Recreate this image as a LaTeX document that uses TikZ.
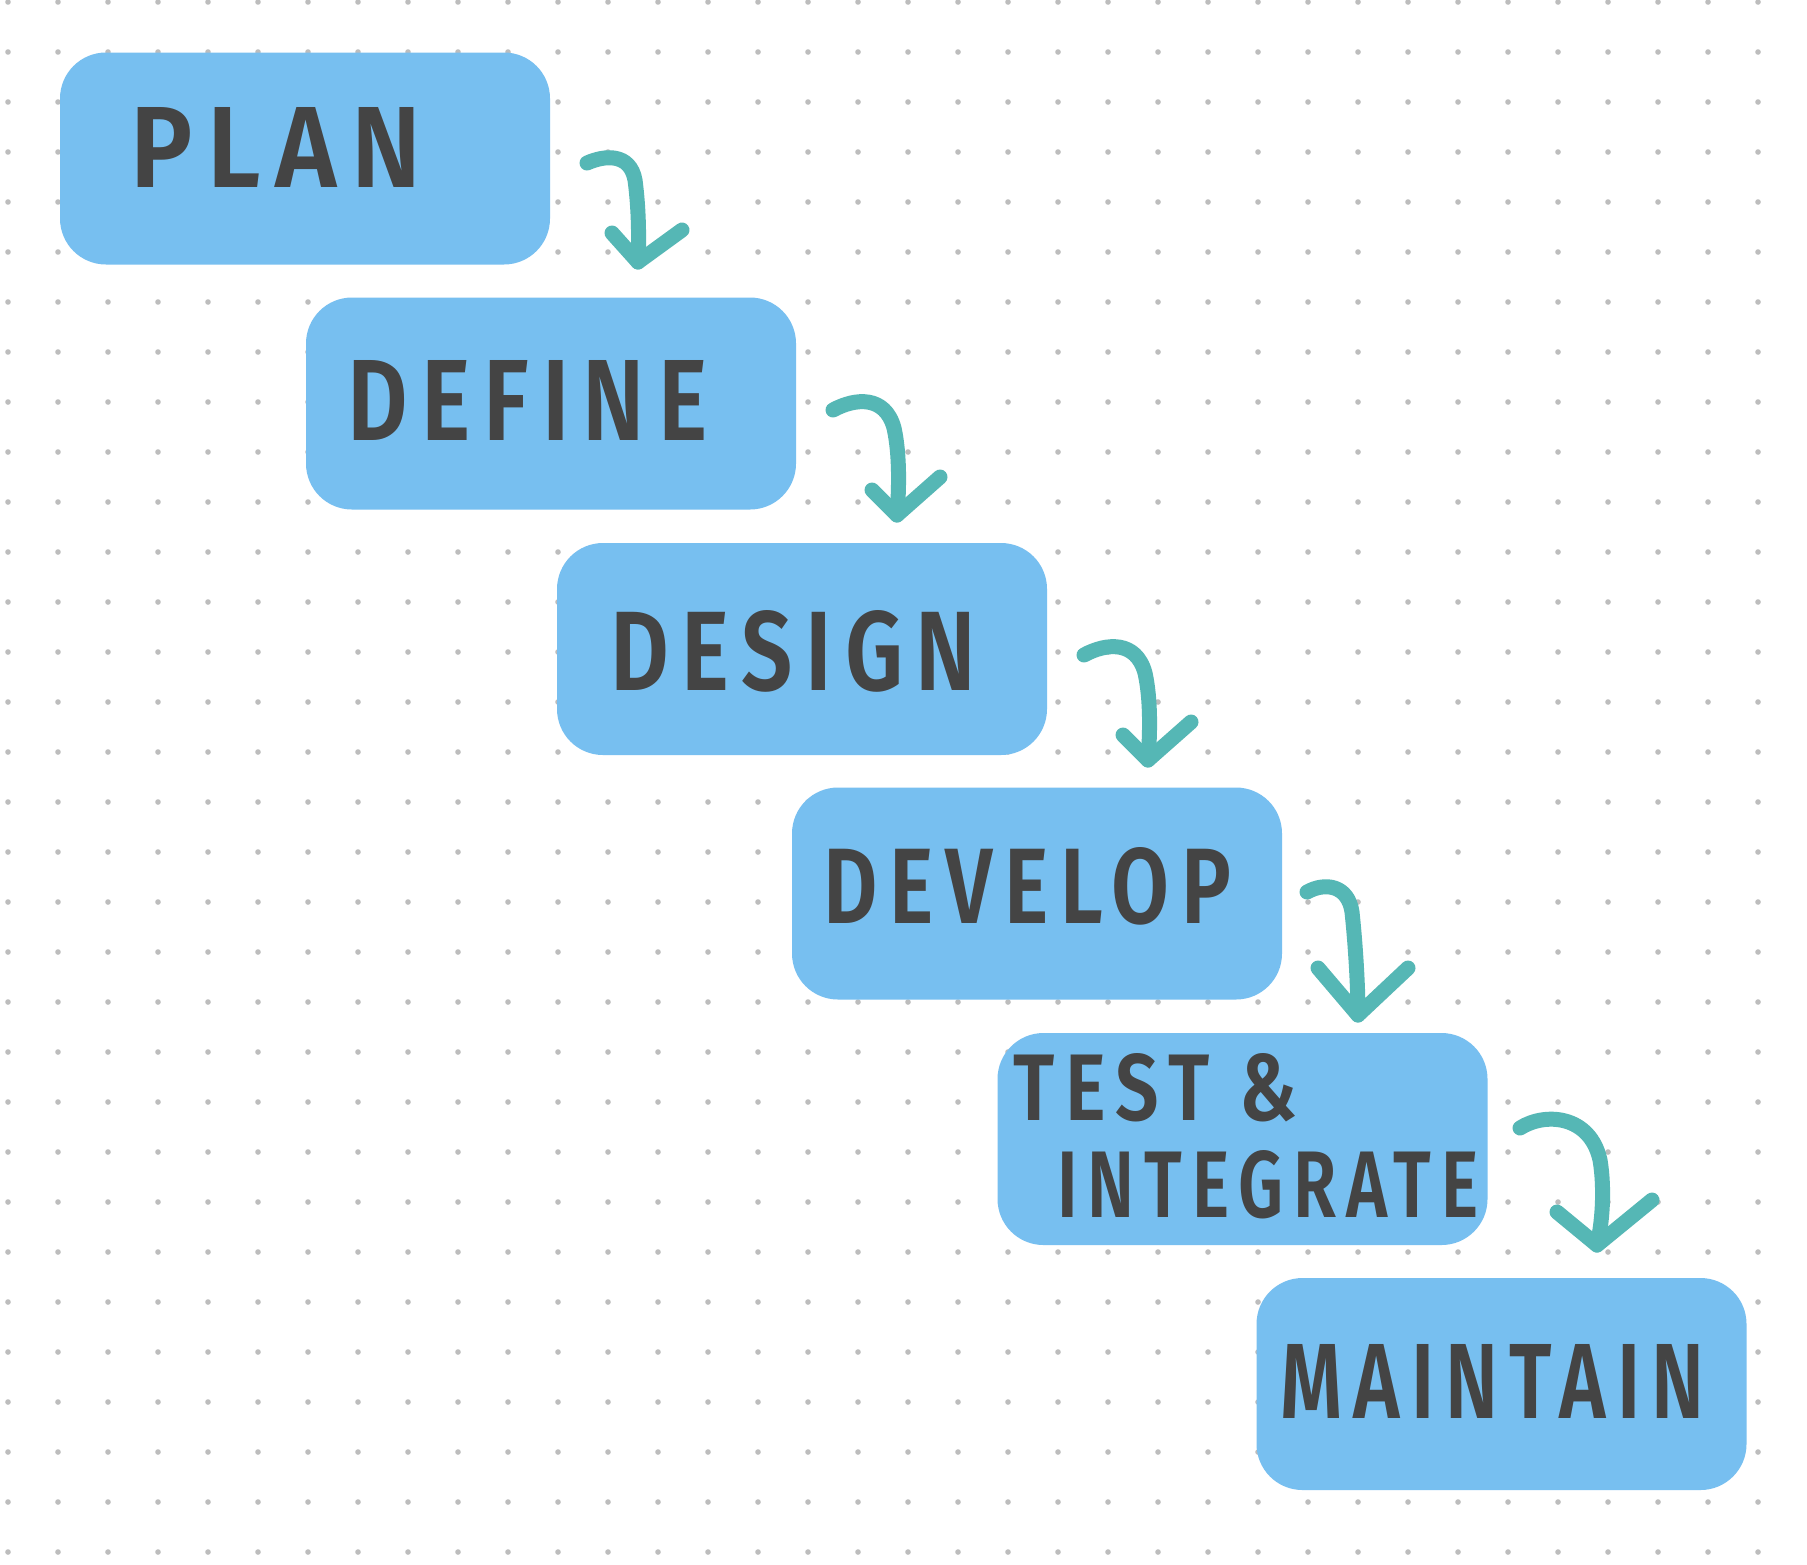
\documentclass[tikz,border=0pt]{standalone}
\usepackage{fontspec}
\setmainfont{Fira Sans}
\newfontfamily\handfont{Fira Sans SemiBold}[LetterSpace=14]
\definecolor{boxblue}{HTML}{77BFF0}
\definecolor{ink}{HTML}{444444}
\definecolor{teal}{HTML}{55B7B5}
\definecolor{dotgray}{HTML}{BDBDBD}
\tikzset{
  stage/.style={fill=boxblue, draw=none, rounded corners=23pt, minimum width=245pt, minimum height=106pt, inner sep=0pt},
  lbl/.style={anchor=base west, inner sep=0pt, text=ink, font=\handfont},
  hook/.style={draw=teal, line width=7.5pt, line cap=round, line join=round}
}
\newcommand{\fitlbl}[3]{\resizebox{#1pt}{#2pt}{#3}}
\begin{document}
\begin{tikzpicture}[x=0.5pt, y=-0.5pt]
\useasboundingbox (0,0) rectangle (1807,1564);
\fill[white] (0,0) rectangle (1807,1564);
% dot grid
\foreach \i in {0,...,35} {
  \foreach \j in {0,...,31} {
    \fill[dotgray] ({8+50*\i},{2+50*\j}) circle (1.4pt);
  }
}
% stages
\node[stage] (plan) at (305,158.5) {};
\node[stage] (define) at (551,403.5) {};
\node[stage] (design) at (802,649) {};
\node[stage] (develop) at (1037,893.5) {};
\node[stage] (test) at (1242.5,1139) {};
\node[stage] (maintain) at (1501.5,1384) {};
% labels
\node[lbl] (planlbl) at (130,187) {\fitlbl{145.5}{40}{PLAN}};
\node[lbl] (definelbl) at (347,440) {\fitlbl{180}{40}{DEFINE}};
\node[lbl] (designlbl) at (610,690) {\fitlbl{183}{40}{DESIGN}};
\node[lbl] (developlbl) at (823,923) {\fitlbl{204}{38}{DEVELOP}};
\node[lbl] (testlbl) at (1013,1120) {\fitlbl{142}{33.5}{TEST \&}};
\node[lbl] (integratelbl) at (1057,1217) {\fitlbl{210.5}{33.5}{INTEGRATE}};
\node[lbl] (maintainlbl) at (1280,1418) {\fitlbl{212}{37}{MAINTAIN}};
% arrow 1
\coordinate (a1s) at (587,163); \coordinate (a1t) at (638,262);
\coordinate (a1l) at (612,233); \coordinate (a1r) at (682,230);
\draw[hook] (a1s) .. controls (605,155) and (630,153) .. (635,180) .. controls (639,210) and (639,240) .. (a1t);
\draw[hook] (a1l) -- (a1t) -- (a1r);
% arrow 2
\coordinate (a2s) at (833,410); \coordinate (a2t) at (897,515);
\coordinate (a2l) at (872,490); \coordinate (a2r) at (940,477);
\draw[hook] (a2s) .. controls (855,398) and (885,395) .. (894,428) .. controls (900,455) and (899,490) .. (a2t);
\draw[hook] (a2l) -- (a2t) -- (a2r);
% arrow 3
\coordinate (a3s) at (1084,655); \coordinate (a3t) at (1148,760);
\coordinate (a3l) at (1123,735); \coordinate (a3r) at (1191,722);
\draw[hook] (a3s) .. controls (1106,643) and (1136,640) .. (1145,673) .. controls (1151,700) and (1150,735) .. (a3t);
\draw[hook] (a3l) -- (a3t) -- (a3r);
% arrow 4
\coordinate (a4s) at (1307,892); \coordinate (a4t) at (1358,1015);
\coordinate (a4l) at (1318,968); \coordinate (a4r) at (1408,968);
\draw[hook] (a4s) .. controls (1325,882) and (1348,885) .. (1352,912) .. controls (1356,950) and (1358,990) .. (a4t);
\draw[hook] (a4l) -- (a4t) -- (a4r);
% arrow 5
\coordinate (a5s) at (1520,1128); \coordinate (a5t) at (1597,1245);
\coordinate (a5l) at (1557,1212); \coordinate (a5r) at (1652,1200);
\draw[hook] (a5s) .. controls (1545,1112) and (1590,1115) .. (1600,1160) .. controls (1605,1190) and (1602,1225) .. (a5t);
\draw[hook] (a5l) -- (a5t) -- (a5r);
\end{tikzpicture}
\end{document}
